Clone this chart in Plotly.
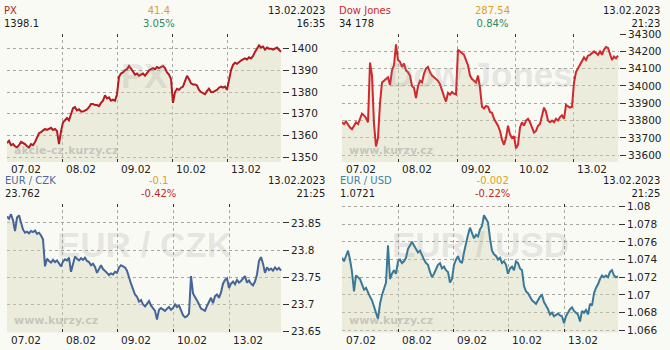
import plotly.graph_objects as go

# ---------------- data ----------------
day_labels = ["07.02", "08.02", "09.02", "10.02", "13.02"]

px_values = [
    1356.5, 1357.5, 1355.5, 1356, 1355, 1354.5, 1355.5, 1357, 1356.5, 1356,
    1355, 1354.5, 1356, 1355.5, 1357, 1359, 1361, 1361.5, 1362.5, 1363,
    1362.5, 1363, 1363.5, 1362.5, 1363, 1362, 1356, 1362, 1366, 1367,
    1368, 1367, 1370, 1372.5, 1373, 1371.5, 1372, 1371, 1371, 1371.5,
    1372, 1373, 1374.5, 1374.5, 1374, 1374, 1373.5, 1375, 1376, 1378.5,
    1377, 1377.5, 1376, 1376.5, 1376, 1379, 1387, 1388.5, 1389, 1390,
    1390.5, 1392, 1391, 1389.5, 1388, 1388.5, 1387.5, 1388, 1388.5, 1387.5,
    1389, 1390, 1390.5, 1391, 1390.5, 1391.5, 1391, 1391.5, 1392, 1391,
    1389, 1388, 1386, 1375, 1380, 1381.5, 1381, 1382, 1382.5, 1385,
    1387.5, 1386, 1384, 1383.5, 1383.5, 1383, 1381, 1380, 1379.5, 1379,
    1380.5, 1381.5, 1380, 1380, 1380.5, 1381, 1382, 1382.5, 1382, 1382.5,
    1381, 1386, 1390, 1392.5, 1393.5, 1393, 1394, 1394.5, 1395, 1395.5,
    1395, 1396, 1395.5, 1396.5, 1398.5, 1400, 1401.5, 1400.5, 1401, 1399.5,
    1400.5, 1400, 1400, 1399.5, 1400, 1400.5, 1399.5, 1398.5,
]
px_day_starts = [0, 27.5, 55, 82.5, 110]
px_ticks = [1350, 1360, 1370, 1380, 1390, 1400]
px_ticktext = ["1350", "1360", "1370", "1380", "1390", "1400"]

dow_values = [
    33790, 33780, 33795, 33775, 33760, 33750, 33770, 33790, 33780, 33810,
    33840, 33830, 33815, 33790, 34135, 34060, 33780, 33650, 33700, 33900,
    34020, 34030, 34040, 34050, 34005, 34090, 34120, 34240, 34150, 34140,
    34110, 34130, 34090, 34080, 34060, 34000, 33990, 33930, 34000, 34030,
    34020, 34070, 34100, 34110, 34080, 34060, 34050, 34040, 34030, 34010,
    33970, 33940, 33910, 33960, 33950, 33965, 33955, 33950, 34210, 34200,
    34190, 34180, 34150, 34120, 34060, 34040, 34030, 34020, 34060, 33990,
    33880, 33870, 33885, 33880, 33850, 33845, 33810, 33790, 33770, 33740,
    33690, 33660, 33700, 33770, 33720, 33700, 33710, 33640, 33660, 33760,
    33790, 33770, 33800, 33810, 33790, 33760, 33730, 33740, 33770, 33780,
    33820, 33875, 33850, 33800, 33790, 33800, 33790, 33810, 33800, 33820,
    33830, 33810, 33890, 33880, 33875, 33880, 34020, 34080, 34100, 34120,
    34140, 34165, 34150, 34175, 34180, 34190, 34200, 34190, 34180, 34200,
    34180, 34210, 34225, 34220, 34190, 34150, 34170, 34160, 34175,
]
dow_day_starts = [0, 28, 57.5, 86.5, 115.5]
dow_ticks = [33600, 33700, 33800, 33900, 34000, 34100, 34200, 34300]
dow_ticktext = ["33600", "33700", "33800", "33900", "34000", "34100", "34200", "34300"]

czk_values = [
    23.862, 23.858, 23.866, 23.855, 23.835, 23.860, 23.864, 23.850, 23.838, 23.832,
    23.834, 23.831, 23.835, 23.833, 23.836, 23.830, 23.832, 23.827, 23.820, 23.770,
    23.784, 23.780, 23.777, 23.782, 23.778, 23.781, 23.776, 23.770, 23.779, 23.783,
    23.781, 23.786, 23.760, 23.775, 23.788, 23.784, 23.781, 23.785, 23.782, 23.786,
    23.780, 23.778, 23.772, 23.775, 23.769, 23.758, 23.765, 23.772, 23.765, 23.762,
    23.758, 23.754, 23.757, 23.755, 23.760, 23.758, 23.768, 23.772, 23.770, 23.768,
    23.762, 23.748, 23.738, 23.728, 23.718, 23.714, 23.705, 23.708, 23.700, 23.696,
    23.702, 23.706, 23.698, 23.692, 23.688, 23.672, 23.690, 23.693, 23.690, 23.688,
    23.692, 23.695, 23.690, 23.693, 23.700, 23.695, 23.698, 23.690, 23.680, 23.676,
    23.678, 23.683, 23.752, 23.720, 23.712, 23.707, 23.700, 23.692, 23.690, 23.688,
    23.697, 23.705, 23.712, 23.702, 23.715, 23.718, 23.712, 23.722, 23.738, 23.745,
    23.748, 23.730, 23.738, 23.742, 23.737, 23.745, 23.740, 23.743, 23.748, 23.752,
    23.740, 23.744, 23.738, 23.735, 23.742, 23.755, 23.780, 23.787, 23.775, 23.758,
    23.768, 23.763, 23.766, 23.762, 23.768, 23.764, 23.767, 23.762,
]
czk_day_starts = [0, 27.5, 55, 83, 111]
czk_ticks = [23.65, 23.7, 23.75, 23.8, 23.85]
czk_ticktext = ["23.65", "23.7", "23.75", "23.8", "23.85"]

usd_values = [
    1.0742, 1.0738, 1.0744, 1.0750, 1.0740, 1.0726, 1.0704, 1.0722, 1.0720, 1.0718,
    1.0712, 1.0706, 1.0708, 1.0702, 1.0698, 1.0694, 1.0688, 1.0680, 1.0673, 1.0690,
    1.0700, 1.0706, 1.0714, 1.0756, 1.0718, 1.0724, 1.0728, 1.0724, 1.0738, 1.0740,
    1.0736, 1.0738, 1.0742, 1.0752, 1.0756, 1.0760, 1.0756, 1.0752, 1.0748, 1.0750,
    1.0744, 1.0740, 1.0736, 1.0734, 1.0726, 1.0720, 1.0724, 1.0730, 1.0734, 1.0736,
    1.0730, 1.0732, 1.0728, 1.0726, 1.0714, 1.0718, 1.0734, 1.0740, 1.0744, 1.0738,
    1.0736, 1.0748, 1.0760, 1.0768, 1.0776, 1.0770, 1.0764, 1.0768, 1.0766, 1.0774,
    1.0778, 1.0790, 1.0786, 1.0782, 1.0764, 1.0750, 1.0746, 1.0744, 1.0740, 1.0742,
    1.0736, 1.0738, 1.0734, 1.0724, 1.0730, 1.0732, 1.0728, 1.0738, 1.0736, 1.0730,
    1.0728, 1.0710, 1.0704, 1.0702, 1.0698, 1.0694, 1.0692, 1.0690, 1.0694, 1.0698,
    1.0700, 1.0692, 1.0688, 1.0684, 1.0678, 1.0680, 1.0676, 1.0678, 1.0679, 1.0677,
    1.0676, 1.0668, 1.0676, 1.0680, 1.0684, 1.0686, 1.0682, 1.0680, 1.0678, 1.0670,
    1.0682, 1.0680, 1.0683, 1.0678, 1.0690, 1.0688, 1.0702, 1.0708, 1.0712, 1.0718,
    1.0722, 1.0720, 1.0722, 1.0720, 1.0726, 1.0728, 1.0722, 1.0720, 1.0721,
]
usd_day_starts = [0, 28, 55.5, 83, 111]
usd_ticks = [1.066, 1.068, 1.07, 1.072, 1.074, 1.076, 1.078, 1.08]
usd_ticktext = ["1.066", "1.068", "1.07", "1.072", "1.074", "1.076", "1.078", "1.08"]

titles = ["PX", "Dow Jones", "EUR / CZK", "EUR / USD"]
last_values = ["1398.1", "34 178", "23.762", "1.0721"]
changes = ["41.4", "287.54", "-0.1", "-0.002"]
pct_changes = ["3.05%", "0.84%", "-0.42%", "-0.22%"]
dates = ["13.02.2023", "13.02.2023", "13.02.2023", "13.02.2023"]
times = ["16:35", "21:23", "21:25", "21:25"]
watermarks = ["PX", "Dow Jones", "EUR / CZK", "EUR / USD"]
credits = ["akcie-cz.kurzy.cz", "www.kurzy.cz", "www.kurzy.cz", "www.kurzy.cz"]

# ---------------- style / layout ----------------
W, H = 670, 350
BG = "#fafaf5"
FONT = "DejaVu Sans"
GRID = "#a8a8a0"
HEAD_SIZE = 10


def fx(p):
    return p / W


def fy(p):
    return 1 - p / H


def two_lines(a, col_a, b, col_b):
    return (f"<span style='color:{col_a}'>{a}</span><br>"
            f"<span style='color:{col_b}'>{b}</span>")


panels = [
    dict(vals=px_values, starts=px_day_starts, ticks=px_ticks, ttext=px_ticktext,
         xpix=(7, 282), ypix=(29, 161), yr=(1347.77, 1406.7), xr=(0, 137.5),
         line="#b31b20", title_col="#b31b20", pct_col="#2b8a55",
         hx=(3, 159, 326), hy=11),
    dict(vals=dow_values, starts=dow_day_starts, ticks=dow_ticks, ttext=dow_ticktext,
         xpix=(342, 619), ypix=(28.5, 161), yr=(33560.8, 34302.8), xr=(0, 138.5),
         line="#d0282c", title_col="#d0282c", pct_col="#2b8a55",
         hx=(338, 492, 661), hy=11),
    dict(vals=czk_values, starts=czk_day_starts, ticks=czk_ticks, ttext=czk_ticktext,
         xpix=(7, 282), ypix=(204, 337), yr=(23.6482, 23.8857), xr=(0, 137.5),
         line="#44649a", title_col="#4a6a9e", pct_col="#c0282d",
         hx=(4, 158, 326), hy=187),
    dict(vals=usd_values, starts=usd_day_starts, ticks=usd_ticks, ttext=usd_ticktext,
         xpix=(342, 618), ypix=(204, 337), yr=(1.065773, 1.08032), xr=(0, 138),
         line="#3a7898", title_col="#3f7fa0", pct_col="#c0282d",
         hx=(339, 492, 661), hy=187),
]

fig = go.Figure()
layout = dict(
    width=W, height=H, margin=dict(l=0, r=0, t=0, b=0),
    paper_bgcolor=BG, plot_bgcolor=BG, showlegend=False,
    font=dict(family=FONT, size=10.5, color="#222222"),
    annotations=[],
)

for i, p in enumerate(panels):
    n = i + 1
    xa = "x" if n == 1 else f"x{n}"
    ya = "y" if n == 1 else f"y{n}"
    xkey = "xaxis" if n == 1 else f"xaxis{n}"
    ykey = "yaxis" if n == 1 else f"yaxis{n}"

    fig.add_trace(go.Scatter(
        x=list(range(len(p["vals"]))), y=p["vals"], mode="lines",
        line=dict(color=p["line"], width=2),
        fill="tozeroy", fillcolor="rgba(214,214,178,0.38)",
        xaxis=xa, yaxis=ya, hoverinfo="skip",
    ))

    layout[xkey] = dict(
        domain=[fx(p["xpix"][0]), fx(p["xpix"][1])], anchor=ya,
        range=list(p["xr"]), tickvals=p["starts"], ticktext=day_labels,
        showgrid=True, gridcolor=GRID, griddash="dot", gridwidth=1,
        zeroline=False, showline=False,
        ticks="inside", ticklen=3, tickcolor="#333333", mirror="ticks",
        ticklabelshift=19, tickfont=dict(family=FONT, size=10.5, color="#222222"),
        fixedrange=True,
    )
    layout[ykey] = dict(
        domain=[fy(p["ypix"][1]), fy(p["ypix"][0])], anchor=xa, side="right",
        range=list(p["yr"]), tickvals=p["ticks"], ticktext=p["ttext"],
        showgrid=True, gridcolor=GRID, griddash="dot", gridwidth=1,
        zeroline=False, showline=False,
        ticks="outside", ticklen=6, tickcolor="#333333",
        tickfont=dict(family=FONT, size=10.5, color="#222222"),
        fixedrange=True,
    )

    x0, xc, x1 = p["hx"]
    yh = p["hy"]
    ann = layout["annotations"]
    ann.append(dict(text=two_lines(titles[i], p["title_col"], last_values[i], "#1a1a1a"),
                    x=fx(x0), y=fy(yh), xref="paper", yref="paper",
                    xanchor="left", yanchor="middle", align="left", showarrow=False,
                    borderpad=0, font=dict(family=FONT, size=HEAD_SIZE)))
    ann.append(dict(text=two_lines(changes[i], "#e0a020", pct_changes[i], p["pct_col"]),
                    x=fx(xc), y=fy(yh), xref="paper", yref="paper",
                    xanchor="center", yanchor="middle", align="center", showarrow=False,
                    borderpad=0, font=dict(family=FONT, size=HEAD_SIZE)))
    ann.append(dict(text=two_lines(dates[i], "#1a1a1a", times[i], "#1a1a1a"),
                    x=fx(x1), y=fy(yh), xref="paper", yref="paper",
                    xanchor="right", yanchor="middle", align="right", showarrow=False,
                    borderpad=0, font=dict(family=FONT, size=HEAD_SIZE)))
    # watermarks
    cx = (p["xpix"][0] + p["xpix"][1]) / 2
    cy = p["ypix"][0] + 0.32 * (p["ypix"][1] - p["ypix"][0])
    ann.append(dict(text="<b>" + watermarks[i] + "</b>", x=fx(cx), y=fy(cy),
                    xref="paper", yref="paper", xanchor="center", yanchor="middle",
                    showarrow=False,
                    font=dict(family="Liberation Sans", size=35, color="rgba(140,140,140,0.2)")))
    ann.append(dict(text="<b>" + credits[i] + "</b>", x=fx(p["xpix"][0] + 5),
                    y=fy(p["ypix"][1] - 12), xref="paper", yref="paper",
                    xanchor="left", yanchor="middle", showarrow=False,
                    font=dict(family=FONT, size=11, color="rgba(150,150,150,0.45)")))

fig.update_layout(**layout)
fig.write_html("out.html")
